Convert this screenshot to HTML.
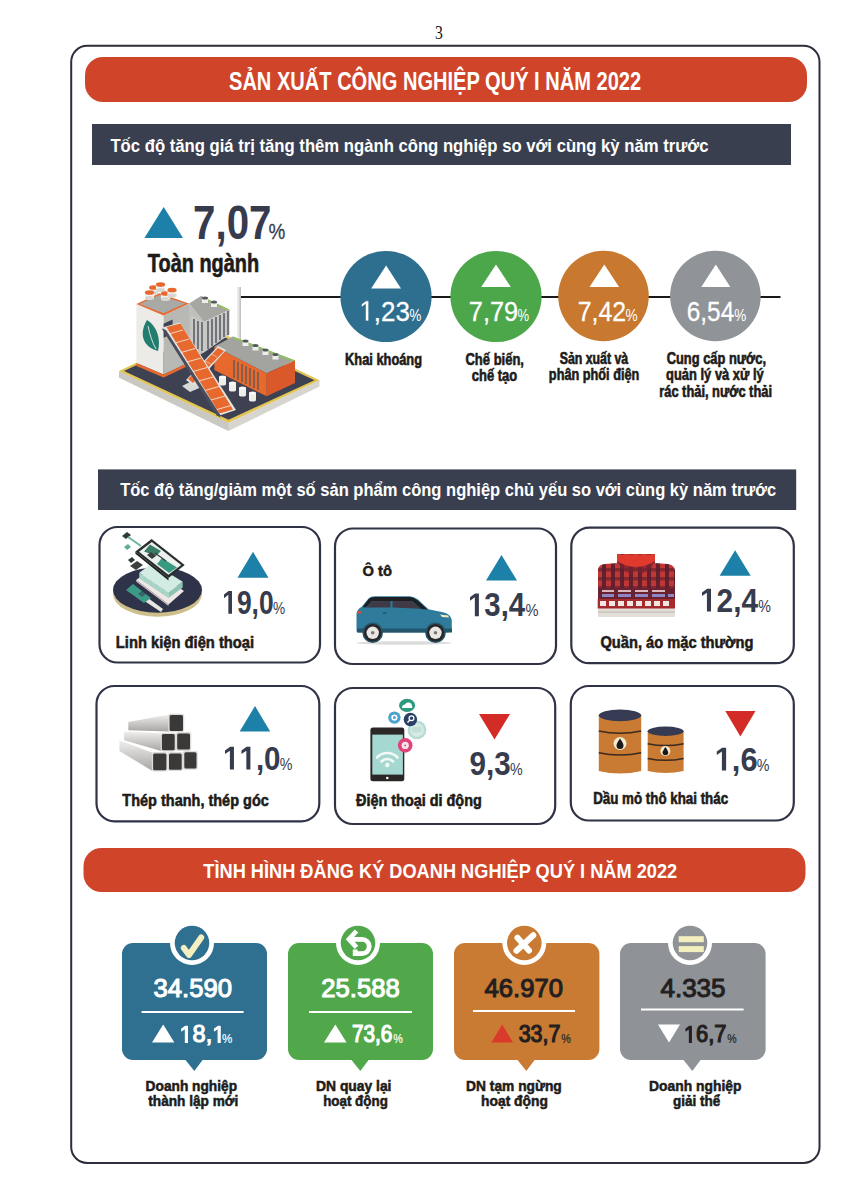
<!DOCTYPE html>
<html><head><meta charset="utf-8"><style>
html,body{margin:0;padding:0;background:#fff;width:849px;height:1200px;overflow:hidden}
svg{display:block}

</style></head><body>
<svg width="849" height="1200" viewBox="0 0 849 1200">
<rect x="0" y="0" width="849" height="1200" fill="#fff"/>
<!-- frame -->
<rect x="71.2" y="45.8" width="748.3" height="1117.2" rx="16" ry="16" fill="none" stroke="#2c2f3b" stroke-width="2"/>
<!-- title bar 1 -->
<rect x="85" y="57" width="722" height="45" rx="18" fill="#d0452a"/>
<!-- subtitle bar 1 -->
<rect x="92" y="124" width="699" height="41" fill="#3a3f50"/>
<!-- connector line -->
<line x1="240" y1="297" x2="780.5" y2="297" stroke="#1a1a1a" stroke-width="2"/>
<!-- circles -->
<circle cx="386" cy="296.5" r="45.6" fill="#2e6f8f"/>
<circle cx="496" cy="296.5" r="45.6" fill="#4ca64a"/>
<circle cx="603.5" cy="296" r="45.3" fill="#c8782f"/>
<circle cx="715.4" cy="296" r="45.3" fill="#909398"/>
<polygon points="371.2,288.5 401,288.5 386.1,265.5" fill="#fff"/>
<polygon points="481.2,287 510.8,287 496,264.5" fill="#fff"/>
<polygon points="589.5,287 619.1,287 604.3,264.5" fill="#fff"/>
<polygon points="701.3,287 730.3,287 715.8,264.5" fill="#fff"/>
<!-- big triangle -->
<polygon points="144.4,238 183,238 163.7,207" fill="#1c80a8"/>
<!-- subtitle bar 2 -->
<rect x="98" y="469.4" width="698.2" height="40.6" fill="#3a3f50"/>
<!-- cards -->
<rect x="99.5" y="527" width="220.5" height="135.5" rx="18" fill="none" stroke="#2f3345" stroke-width="2.2"/>
<rect x="335" y="528.5" width="221" height="135.5" rx="18" fill="none" stroke="#2f3345" stroke-width="2.2"/>
<rect x="571.3" y="527.7" width="222.5" height="135.5" rx="18" fill="none" stroke="#2f3345" stroke-width="2.2"/>
<rect x="96.5" y="686" width="222.8" height="135.3" rx="18" fill="none" stroke="#2f3345" stroke-width="2.2"/>
<rect x="335" y="688" width="220.2" height="136" rx="18" fill="none" stroke="#2f3345" stroke-width="2.2"/>
<rect x="570.8" y="686" width="223" height="134.5" rx="18" fill="none" stroke="#2f3345" stroke-width="2.2"/>
<!-- card triangles -->
<polygon points="237.5,577.7 268.5,577.7 253,551.7" fill="#1c80a8"/>
<polygon points="486,580.5 517,580.5 501.5,555" fill="#1c80a8"/>
<polygon points="719.6,575.7 750.7,575.7 735.1,550.3" fill="#1c80a8"/>
<polygon points="239.7,731.5 270.2,731.5 255,706" fill="#1c80a8"/>
<polygon points="479,714 510,714 494.5,739.4" fill="#d32b25"/>
<polygon points="725.3,711 755.5,711 740.4,736.6" fill="#d32b25"/>
<!-- title bar 2 -->
<rect x="83.5" y="848" width="722" height="44" rx="18" fill="#d0452a"/>
<!-- stat boxes -->
<g id="b1"><rect x="122" y="943" width="145" height="117" rx="11" fill="#2f6f90"/><polygon points="184.7,1059 203.3,1059 194.3,1071" fill="#2f6f90"/>
<circle cx="192" cy="943" r="22" fill="#fff"/><circle cx="192" cy="943" r="17.3" fill="#2f6f90"/>
<rect x="141.6" y="1011" width="102" height="2" fill="#fff"/>
<polygon points="152,1042.6 174.4,1042.6 163.2,1024.6" fill="#fff"/></g>
<g id="b2"><rect x="288" y="943" width="145" height="117" rx="11" fill="#50a84b"/><polygon points="350.7,1059 369.3,1059 360.3,1071" fill="#50a84b"/>
<circle cx="358" cy="943" r="22" fill="#fff"/><circle cx="358" cy="943" r="17.3" fill="#50a84b"/>
<rect x="309" y="1011" width="103" height="2" fill="#fff"/>
<polygon points="324,1042.6 346.6,1042.6 335.3,1024.6" fill="#fff"/></g>
<g id="b3"><rect x="454" y="943" width="145.4" height="117" rx="11" fill="#c97b34"/><polygon points="516.7,1059 535.3,1059 526.3,1071" fill="#c97b34"/>
<circle cx="524.3" cy="943" r="22" fill="#fff"/><circle cx="524.3" cy="943" r="17.3" fill="#c97b34"/>
<rect x="473" y="1010" width="102" height="2" fill="#fff"/>
<polygon points="491.4,1042.6 513,1042.6 502.2,1024.6" fill="#d93a2a"/></g>
<g id="b4"><rect x="620" y="943" width="145.6" height="117" rx="11" fill="#8f9297"/><polygon points="682.7,1059 701.3,1059 692.3,1071" fill="#8f9297"/>
<circle cx="690" cy="943" r="22" fill="#fff"/><circle cx="690" cy="943" r="17.3" fill="#8f9297"/>
<rect x="641" y="1008.5" width="102.6" height="2" fill="#fff"/>
<polygon points="658,1024.6 680,1024.6 669,1042.6" fill="#fff"/></g>
<!-- ===== FACTORY ===== -->
<g id="factory">
 <!-- platform thickness -->
 <polygon points="119,371 228.5,422.7 319.5,380.3 319.5,386.5 228.5,431 119,377.5" fill="#d6d5d0"/>
 <polygon points="119,371 228.5,422.7 228.5,431 119,377.5" fill="#c9c8c3"/>
 <!-- platform top (yellow rim then dark) -->
 <polygon points="119,371 210.2,327.6 319.5,380.3 228.5,422.7" fill="#e2c451"/>
 <polygon points="124,371 210.2,330.5 314.5,380.3 228.5,419.7" fill="#3d4152"/>
 <!-- tall building -->
 <polygon points="136.4,303.9 163.6,315.5 163.6,374.6 136.4,363" fill="#ecebe7"/>
 <polygon points="163.6,315.5 189,303.5 189,362.5 163.6,374.6" fill="#b8b9b5"/>
 <polygon points="136.4,363 163.6,374.6 189,362.5 189,365.5 163.6,377.6 136.4,366" fill="#e8692e"/>
 <polygon points="136.4,303.9 159.5,293.2 189,303.5 163.6,315.5" fill="#e8692e"/>
 <polygon points="139.5,303.9 159.5,295 185.5,303.5 163.6,313.2" fill="#a9aaa6"/>
 <rect x="163.6" y="320" width="9" height="14" fill="#3f4353" transform="skewY(-25) translate(0,80)"/>
 <!-- leaf -->
 <path d="M147,320 C157,326 161,339 158,351 C146,348 137,337 147,320 Z" fill="#227d6e"/>
 <path d="M148,326 C150,335 152,342 156,349" stroke="#ecebe7" stroke-width="0.9" fill="none"/>
 <!-- orange caps -->
 <g>
  <rect x="149.1" y="287.5" width="9.2" height="5.5" fill="#f2f0ec"/><ellipse cx="153.7" cy="293.0" rx="4.6" ry="2" fill="#d9d7d2"/><ellipse cx="153.7" cy="287.5" rx="4.6" ry="2.3" fill="#e8672f"/>
  <rect x="155.9" y="284.5" width="9.2" height="5.5" fill="#f2f0ec"/><ellipse cx="160.5" cy="290.0" rx="4.6" ry="2" fill="#d9d7d2"/><ellipse cx="160.5" cy="284.5" rx="4.6" ry="2.3" fill="#e8672f"/>
  <rect x="144.9" y="292.5" width="9.2" height="5.5" fill="#f2f0ec"/><ellipse cx="149.5" cy="298.0" rx="4.6" ry="2" fill="#d9d7d2"/><ellipse cx="149.5" cy="292.5" rx="4.6" ry="2.3" fill="#e8672f"/>
  <rect x="160.9" y="293.5" width="9.2" height="5.5" fill="#f2f0ec"/><ellipse cx="165.5" cy="299.0" rx="4.6" ry="2" fill="#d9d7d2"/><ellipse cx="165.5" cy="293.5" rx="4.6" ry="2.3" fill="#e8672f"/>
  <rect x="167.4" y="290.0" width="9.2" height="5.5" fill="#f2f0ec"/><ellipse cx="172" cy="295.5" rx="4.6" ry="2" fill="#d9d7d2"/><ellipse cx="172" cy="290.0" rx="4.6" ry="2.3" fill="#e8672f"/>
 </g>
 <!-- middle building -->
 <polygon points="189,303.5 201,296 229.6,309.7 204,322" fill="#a6a7a3"/>
 <polygon points="201,296 229.6,309.7 229.6,311.5 201,297.8" fill="#8fbf5a"/>
 <polygon points="189,303.5 204,322 204,352.6 189,360" fill="#bfc0bc"/>
 <polygon points="191,316 204,322 204,352.6 191,346" fill="#c8c9c5"/>
 <polygon points="204,322 229.6,309.7 229.6,334.4 204,352.6" fill="#c8c9c5"/>
 <g stroke="#5d606b" stroke-width="1.6">
  <line x1="194" y1="319" x2="194" y2="347"/><line x1="198" y1="321" x2="198" y2="349"/><line x1="202" y1="322" x2="202" y2="351"/>
  <line x1="208" y1="321" x2="208" y2="349"/><line x1="212" y1="319" x2="212" y2="346"/><line x1="216" y1="317" x2="216" y2="343"/><line x1="220" y1="315" x2="220" y2="340"/><line x1="224" y1="313" x2="224" y2="337"/><line x1="228" y1="311" x2="228" y2="335"/>
 </g>
 <g>
  <rect x="202" y="298" width="6" height="5" fill="#eeeeea"/><ellipse cx="205" cy="298" rx="3" ry="1.5" fill="#55585f"/>
  <rect x="211" y="302" width="6" height="5" fill="#eeeeea"/><ellipse cx="214" cy="302" rx="3" ry="1.5" fill="#55585f"/>
 </g>
 <!-- chimney -->
 <rect x="237.2" y="287" width="3.6" height="54" fill="#e6e6e2"/><rect x="239.6" y="287" width="1.2" height="54" fill="#b9b9b5"/>
 <!-- right orange building -->
 <polygon points="214.4,346.4 232.8,336.5 295,360.5 266.7,373.2" fill="#a3a4a0"/>
 <polygon points="232.8,336.5 295,360.5 295,362.5 232.8,338.5" fill="#8fbf5a"/>
 <polygon points="214.4,346.4 266.7,373.2 266.7,396.3 214.4,370" fill="#e8692e"/>
 <polygon points="266.7,373.2 295,360.5 295,383 266.7,396.3" fill="#d9592a"/>
 <g stroke="#6b5a55" stroke-width="1.5">
  <line x1="234" y1="360" x2="234" y2="378"/><line x1="238" y1="362" x2="238" y2="380"/><line x1="242" y1="364" x2="242" y2="382"/><line x1="246" y1="366" x2="246" y2="384"/><line x1="250" y1="368" x2="250" y2="386"/><line x1="254" y1="370" x2="254" y2="388"/><line x1="258" y1="372" x2="258" y2="390"/>
 </g>
 <g>
  <rect x="242.5" y="341" width="6" height="5" fill="#eeeeea"/><ellipse cx="245.5" cy="341" rx="3" ry="1.5" fill="#55585f"/>
  <rect x="252.5" y="345.5" width="6" height="5" fill="#eeeeea"/><ellipse cx="255.5" cy="345.5" rx="3" ry="1.5" fill="#55585f"/>
  <rect x="262.5" y="350" width="6" height="5" fill="#eeeeea"/><ellipse cx="265.5" cy="350" rx="3" ry="1.5" fill="#55585f"/>
  <rect x="272.5" y="354.5" width="6" height="5" fill="#eeeeea"/><ellipse cx="275.5" cy="354.5" rx="3" ry="1.5" fill="#55585f"/>
 </g>
 <!-- small cylinders -->
 <g fill="#eeeeea">
  <rect x="219" y="377" width="7" height="7"/><ellipse cx="222.5" cy="384" rx="3.5" ry="1.5"/><ellipse cx="222.5" cy="377" rx="3.5" ry="1.5" fill="#fafaf8"/>
  <rect x="229" y="383" width="7" height="7"/><ellipse cx="232.5" cy="390" rx="3.5" ry="1.5"/><ellipse cx="232.5" cy="383" rx="3.5" ry="1.5" fill="#fafaf8"/>
  <rect x="239" y="388" width="7" height="7"/><ellipse cx="242.5" cy="395" rx="3.5" ry="1.5"/><ellipse cx="242.5" cy="388" rx="3.5" ry="1.5" fill="#fafaf8"/>
  <rect x="249" y="393" width="7" height="7"/><ellipse cx="252.5" cy="400" rx="3.5" ry="1.5"/><ellipse cx="252.5" cy="393" rx="3.5" ry="1.5" fill="#fafaf8"/>
 </g>
 <!-- support -->
 <polygon points="182,386 196,379 204,386 190,392" fill="#d9d9d5"/>
 <!-- conveyor 2 (crossing) -->
 <polygon points="186,380 218,346 226,350 194,386" fill="#e0e0dc"/>
 <polygon points="188,379 218,348 224,351 193,383" fill="#e8692e"/>
 <g stroke="#f3d2c0" stroke-width="0.7"><line x1="193" y1="374" x2="199" y2="377"/><line x1="199" y1="367" x2="205" y2="370"/><line x1="205" y1="361" x2="211" y2="364"/><line x1="211" y1="354" x2="217" y2="357"/></g>
 <!-- conveyor 1 (big diagonal) -->
 <polygon points="162,327.5 180,322.5 236,410 218,416" fill="#e4e4e0"/>
 <polygon points="162,327.5 166,331 221,418 218,416" fill="#3f4353"/>
 <polygon points="162,329 166,330 221,416 217,416" fill="#4a4e5e"/>
 <polygon points="166.5,327 180.5,323.5 233,409.5 219.5,413.5" fill="#e8692e"/>
 <g stroke="#f6e2d6" stroke-width="0.9">
  <line x1="169" y1="334" x2="183" y2="330"/><line x1="175" y1="343" x2="189" y2="339"/><line x1="181" y1="352.5" x2="195" y2="348.5"/><line x1="187" y1="362" x2="201" y2="358"/><line x1="193" y1="371.5" x2="207" y2="367.5"/><line x1="199" y1="381" x2="213" y2="377"/><line x1="205" y1="390.5" x2="219" y2="386.5"/><line x1="211" y1="400" x2="225" y2="396"/><line x1="217" y1="409.5" x2="231" y2="405.5"/>
 </g>
</g>
<!-- ===== PCB / phone parts ===== -->
<g id="pcb">
 <ellipse cx="157.5" cy="594" rx="44.5" ry="22.7" fill="#cdbf8c"/>
 <ellipse cx="157.5" cy="590" rx="44.5" ry="22.7" fill="#2f3349"/>
 <!-- stylus -->
 <polygon points="128,590 133,587 163,609 161,612" fill="#e6e6e2"/>
 <polygon points="126,590 133,584 151,598 144,603" fill="#3c9a86"/>
 <polygon points="138,594 143,590 147,593 142,597" fill="#2f3349" opacity="0.5"/>
 <!-- bottom layer -->
 <polygon points="136.1,579.9 151.6,568.9 184,590.9 168.5,604.5" fill="#efe6e6"/>
 <polygon points="136.1,579.9 168.5,604.5 168.5,606 136.1,581.5" fill="#c9c0c0"/>
 <!-- glass box -->
 <polygon points="139.3,572.8 168.5,592.2 168.5,598 139.3,578.5" fill="#a8d5c5"/>
 <polygon points="168.5,592.2 182.7,581.8 182.7,587.5 168.5,598" fill="#8cc4b2"/>
 <polygon points="139.3,572.8 152.3,563 182.7,581.8 168.5,592.2" fill="#d3ece3"/>
 <g stroke="#9fcfbf" stroke-width="0.6"><line x1="145" y1="576.5" x2="145" y2="582"/><line x1="151" y1="580.5" x2="151" y2="586"/><line x1="157" y1="584.5" x2="157" y2="590"/><line x1="163" y1="588.5" x2="163" y2="594"/></g>
 <!-- top phone -->
 <polygon points="135.4,551.4 151.6,539.1 184.7,565 168.5,578" fill="#2b2e2f"/>
 <polygon points="135.4,551.4 168.5,578 168.5,580.5 135.4,553.8" fill="#1f2223"/>
 <polygon points="139,551.8 151.8,542 181.2,565 168.4,574.8" fill="#eef2ee"/>
 <polygon points="150,544.5 161,551 156,556 144,551.5" fill="#3c7d6a"/>
 <polygon points="162,558 177,567.5 169,573 157,564" fill="#3a9a80"/>
 <polygon points="147,555 151,552 156,556 152,559" fill="#3b3f40"/>
 <line x1="155" y1="553" x2="166" y2="561" stroke="#3b3f40" stroke-width="1.2"/>
 <!-- chips -->
 <polygon points="122,536 127,532 131,535 126,539" fill="#2d3b35"/>
 <line x1="128" y1="537" x2="141" y2="546" stroke="#6fb59e" stroke-width="2"/>
 <polygon points="124,547 128,544 131,547 127,550" fill="#5fae94"/>
 <polygon points="128,560 132,557 135,560 131,563" fill="#2d3b35"/>
 <polygon points="130,566 137,561 143,565 136,570" fill="#3b3f40"/>
</g>
<!-- ===== CAR ===== -->
<g id="car">
 <ellipse cx="404" cy="643" rx="48" ry="1.8" fill="#dcdcdc"/>
 <path d="M356.5,630.5 L356.5,614 Q357,609 362,606.5 L368.5,598.5 Q370.5,596.3 375,596.3 L410,596.3 Q414,596.6 418,599.5 L428.5,609.2 L444,612.5 Q451,614.5 451.8,620 L451.8,629.5 Q451,632.5 447,632.5 L360,632.5 Q356.5,632.5 356.5,630.5 Z" fill="#2f7b9b"/>
 <path d="M362.5,607 L369,598.8 Q371,597 375,597 L410,597 Q413.5,597.3 417.5,600.2 L427.5,609.5 L421,609 L412,601 L372,601 L366,607.5 Z" fill="#1d1f22"/>
 <path d="M366.5,607.5 L372,601.2 L390.5,601 L390.5,607.5 Z" fill="#3f3a46"/>
 <path d="M392.5,607.5 L392.5,601 L411.5,601 L420.5,608.8 Z" fill="#3f3a46"/>
 <rect x="357" y="611" width="4" height="2.6" fill="#c9524a"/>
 <path d="M440,614.5 L448,615.5 L449,617.5 L442,617 Z" fill="#f3ecc0"/>
 <rect x="383" y="612.5" width="3.5" height="1.2" fill="#1f4d60"/>
 <rect x="357" y="628.5" width="95" height="4" fill="#23566b"/>
 <circle cx="372.7" cy="632.8" r="10.3" fill="#23566b"/>
 <circle cx="435.5" cy="632.8" r="10.3" fill="#23566b"/>
 <circle cx="372.7" cy="632.8" r="8.8" fill="#2a2526"/>
 <circle cx="435.5" cy="632.8" r="8.8" fill="#2a2526"/>
 <circle cx="372.7" cy="632.8" r="6.2" fill="#e9e7e4"/>
 <circle cx="435.5" cy="632.8" r="6.2" fill="#e9e7e4"/>
 <circle cx="372.7" cy="632.8" r="1.8" fill="#7a7572"/>
 <circle cx="435.5" cy="632.8" r="1.8" fill="#7a7572"/>
</g>
<!-- ===== SHIRTS ===== -->
<g id="shirts">
 <defs>
  <pattern id="plaid" width="9" height="9" patternUnits="userSpaceOnUse" x="599" y="556">
   <rect width="9" height="9" fill="#bf3836"/>
   <rect x="3" width="4" height="9" fill="#5b1e2c" opacity="0.9"/>
   <rect y="3" width="9" height="3.5" fill="#5b1e2c" opacity="0.6"/>
  </pattern>
 </defs>
 <rect x="598" y="608" width="77" height="9" rx="1.5" fill="#e3ded8"/>
 <rect x="598" y="611.5" width="77" height="1" fill="#b9b3ad"/>
 <rect x="597.7" y="599" width="77.3" height="9.5" fill="#a42a2e"/>
 <g fill="#f1e6e2"><rect x="600" y="601" width="6" height="5"/><rect x="609" y="601" width="6" height="5"/><rect x="618" y="601" width="6" height="5"/><rect x="627" y="601" width="6" height="5"/><rect x="636" y="601" width="6" height="5"/><rect x="645" y="601" width="6" height="5"/><rect x="654" y="601" width="6" height="5"/><rect x="663" y="601" width="6" height="5"/></g>
 <rect x="598" y="588" width="77" height="11" fill="#6a2130"/>
 <g fill="#8d88c4"><rect x="602" y="594" width="12" height="3"/><rect x="618" y="594" width="13" height="3"/><rect x="635" y="594" width="13" height="3"/><rect x="652" y="594" width="13" height="3"/><rect x="668" y="594" width="6" height="3"/></g>
 <g fill="#d9b6c0"><rect x="602" y="590" width="12" height="2"/><rect x="618" y="590" width="13" height="2"/><rect x="635" y="590" width="13" height="2"/><rect x="652" y="590" width="13" height="2"/></g>
 <path d="M598,588 L598,569 Q599,564.5 605,564 L617,563 L617,554 L655,554 L655,563 L668,564 Q674,565 675,570 L675,588 Z" fill="url(#plaid)"/>
 <path d="M617,554.5 L655,554.5 L655,561 Q646,567 636,567 Q626,567 617,561 Z" fill="#e0392e"/>
 <path d="M617,561 Q626,567 636,567 L632,575 L621,568 Z" fill="#7a2230" opacity="0.7"/>
 <path d="M655,561 Q646,567 636,567 L640,575 L651,568 Z" fill="#7a2230" opacity="0.7"/>
</g>
<!-- ===== STEEL BEAMS ===== -->
<g id="steel">
 <defs>
  <linearGradient id="stg" x1="0" y1="0" x2="0" y2="1"><stop offset="0" stop-color="#f0efed"/><stop offset="1" stop-color="#a8a6a4"/></linearGradient>
 </defs>
 <polygon points="119.4,740.3 152.4,752.7 152.4,771 119.4,750.9" fill="url(#stg)"/>
 <polygon points="124.1,731.5 161.2,733.3 161.2,750.9 124.1,740.3" fill="url(#stg)"/>
 <polygon points="128.3,722.1 168.9,714.4 168.9,731.5 128.3,730.3" fill="url(#stg)"/>
 <rect x="168.3" y="713.8" width="15.9" height="18.3" rx="2" fill="#dedcda"/><rect x="169.6" y="715" width="13.4" height="15.9" rx="1.5" fill="#3b3938"/>
 <rect x="160.6" y="732.7" width="15.4" height="18.8" rx="2" fill="#dedcda"/><rect x="161.9" y="734" width="12.8" height="16.2" rx="1.5" fill="#3b3938"/>
 <rect x="175.9" y="732.1" width="15.4" height="18.8" rx="2" fill="#dedcda"/><rect x="177.2" y="733.4" width="12.8" height="16.2" rx="1.5" fill="#3b3938"/>
 <rect x="151.8" y="752.1" width="15.9" height="19.5" rx="2" fill="#dedcda"/><rect x="153.1" y="753.4" width="13.3" height="16.9" rx="1.5" fill="#3b3938"/>
 <rect x="167.7" y="752.1" width="15.3" height="18.9" rx="2" fill="#dedcda"/><rect x="169" y="753.4" width="12.7" height="16.3" rx="1.5" fill="#3b3938"/>
 <rect x="183" y="750.9" width="14.8" height="18.9" rx="2" fill="#dedcda"/><rect x="184.3" y="752.2" width="12.2" height="16.3" rx="1.5" fill="#3b3938"/>
</g>
<!-- ===== MOBILE PHONE ===== -->
<g id="mobile">
 <rect x="370.4" y="727.5" width="33.9" height="53.7" rx="2.5" fill="#2a2726"/>
 <rect x="372.3" y="734.6" width="30.6" height="40" fill="#a5d8d0"/>
 <circle cx="387.3" cy="778" r="1.3" fill="#fff"/>
 <path d="M377,757.5 A14,14 0 0 1 397.6,757.5" stroke="#f4f8f6" stroke-width="2.6" fill="none" stroke-linecap="round"/>
 <path d="M381.5,761.5 A8,8 0 0 1 393.1,761.5" stroke="#f4f8f6" stroke-width="2.6" fill="none" stroke-linecap="round"/>
 <circle cx="387.3" cy="765" r="2.2" fill="#f4f8f6"/>
 <ellipse cx="407.1" cy="705.4" rx="8" ry="6.6" fill="#2d9a7e"/>
 <path d="M402,708 Q402,704.5 405,704.5 Q406,702 409,702.5 Q412,703 412,706 Q413,708 411,708 Z" fill="#fff"/>
 <circle cx="394.4" cy="717.6" r="6.2" fill="#4aa3d0"/>
 <circle cx="394.4" cy="717.6" r="2.3" fill="none" stroke="#fff" stroke-width="1.6"/>
 <circle cx="417" cy="729.9" r="9.4" fill="#b8dcd4"/>
 <circle cx="417" cy="729.9" r="6.8" fill="#d6ebe5"/>
 <rect x="412" y="727" width="9.5" height="5.5" rx="1" fill="#c2e0d8"/>
 <circle cx="410.4" cy="719.5" r="6.7" fill="#2b3f66"/>
 <circle cx="411.5" cy="718.3" r="2.4" fill="none" stroke="#fff" stroke-width="1.3"/>
 <line x1="409.7" y1="720.2" x2="407.5" y2="722.5" stroke="#fff" stroke-width="1.4"/>
 <circle cx="405.2" cy="745.4" r="7.3" fill="#e0437a"/>
 <circle cx="405.2" cy="745.4" r="3.6" fill="#f7e3ea"/><circle cx="405.2" cy="745.4" r="0.9" fill="#e0437a"/>
</g>
<!-- ===== BARRELS ===== -->
<g id="barrels">
 <path d="M598.8,715.3 L641.2,715.3 L641.2,771 Q620,776 598.8,771 Z" fill="#c97a33"/>
 <ellipse cx="620" cy="715.3" rx="21.2" ry="5.9" fill="#363a52"/>
 <path d="M598.8,731 Q620,735.5 641.2,731" stroke="#3a2a20" stroke-width="1.6" fill="none"/>
 <path d="M598.8,752.8 Q620,757.3 641.2,752.8" stroke="#3a2a20" stroke-width="1.6" fill="none"/>
 <circle cx="620" cy="743.5" r="6.5" fill="#f3ead0"/>
 <path d="M620,738.5 Q623.5,743.5 623.5,745.5 A3.5,3.5 0 0 1 616.5,745.5 Q616.5,743.5 620,738.5 Z" fill="#1a1a1a"/>
 <path d="M647.7,731.2 L683.6,731.2 L683.6,771 Q665.6,775 647.7,771 Z" fill="#c97a33"/>
 <ellipse cx="665.6" cy="731.2" rx="18" ry="4.7" fill="#363a52"/>
 <path d="M647.7,743.7 Q665.6,747.5 683.6,743.7" stroke="#3a2a20" stroke-width="1.5" fill="none"/>
 <path d="M647.7,758.4 Q665.6,762.2 683.6,758.4" stroke="#3a2a20" stroke-width="1.5" fill="none"/>
 <circle cx="665.4" cy="751" r="5" fill="#f3ead0"/>
 <path d="M665.4,747 Q668.2,751 668.2,752.5 A2.8,2.8 0 0 1 662.6,752.5 Q662.6,751 665.4,747 Z" fill="#1a1a1a"/>
</g>
<!-- ===== STAT ICONS ===== -->
<path d="M183.8,948 L189,955 L201.2,937.5" stroke="#f3efbe" stroke-width="6" fill="none" stroke-linecap="round" stroke-linejoin="round"/>
<g stroke="#fff" stroke-width="4.8" fill="none" stroke-linejoin="miter">
 <path d="M356.5,931 L349,939.2 L356.5,947.3"/>
 <path d="M350.5,939.3 L362,939.3 A7.2,7.2 0 0 1 362,953.7 L355.2,953.7 L355.2,949.5"/>
</g>
<g stroke="#fff" stroke-width="6" fill="none" stroke-linecap="round">
 <line x1="517.5" y1="937.8" x2="529" y2="950.5"/>
 <line x1="516.5" y1="950.8" x2="533.3" y2="935.2"/>
</g>
<rect x="678.7" y="936.2" width="25.1" height="6" fill="#f3efbe"/>
<rect x="678.7" y="946.1" width="25.1" height="6" fill="#f3efbe"/>

<text transform="translate(435.09,38.80) scale(0.8348,1)" font-family="Liberation Serif" font-weight="normal" font-size="18.82" fill="#111">3</text>
<text transform="translate(229.00,90.20) scale(0.7637,1)" font-family="Liberation Sans" font-weight="bold" font-size="26.29" fill="#ffffff">SẢN XUẤT CÔNG NGHIỆP QUÝ I NĂM 2022</text>
<text transform="translate(110.43,151.80) scale(0.8652,1)" font-family="Liberation Sans" font-weight="bold" font-size="19.29" fill="#ffffff">Tốc độ tăng giá trị tăng thêm ngành công nghiệp so với cùng kỳ năm trước</text>
<text transform="translate(193.09,238.90) scale(0.8515,1)" font-family="Liberation Sans" font-weight="bold" font-size="47.29" fill="#363b4e">7,07</text>
<text transform="translate(268.54,238.60) scale(0.8270,1)" font-family="Liberation Sans" font-weight="normal" font-size="22.86" fill="#363b4e" stroke="#363b4e" stroke-width="0.30">%</text>
<text transform="translate(147.80,272.00) scale(0.7748,1)" font-family="Liberation Sans" font-weight="bold" font-size="25.71" fill="#201b19" stroke="#201b19" stroke-width="0.65">Toàn ngành</text>
<text transform="translate(359.40,320.50) scale(0.9232,1)" font-family="Liberation Sans" font-weight="normal" font-size="28.14" fill="#ffffff" stroke="#ffffff" stroke-width="0.27"> ,23</text>
<polygon transform="translate(359.40,320.50) scale(0.9232,1) translate(0.000,0) scale(0.01374)" points="515,0 515,-1237 197,-1010 197,-1180 530,-1409 696,-1409 696,0" fill="#ffffff" stroke="#ffffff" stroke-width="19.7" stroke-linejoin="round"/>
<text transform="translate(409.43,320.50) scale(0.8308,1)" font-family="Liberation Sans" font-weight="normal" font-size="16.00" fill="#ffffff">%</text>
<text transform="translate(468.83,320.50) scale(0.9007,1)" font-family="Liberation Sans" font-weight="normal" font-size="28.14" fill="#ffffff" stroke="#ffffff" stroke-width="0.28">7,79</text>
<text transform="translate(517.54,320.50) scale(0.8155,1)" font-family="Liberation Sans" font-weight="normal" font-size="16.00" fill="#ffffff">%</text>
<text transform="translate(577.75,320.50) scale(0.8854,1)" font-family="Liberation Sans" font-weight="normal" font-size="28.14" fill="#ffffff" stroke="#ffffff" stroke-width="0.28">7,42</text>
<text transform="translate(625.62,320.50) scale(0.8537,1)" font-family="Liberation Sans" font-weight="normal" font-size="16.00" fill="#ffffff">%</text>
<text transform="translate(686.78,320.50) scale(0.8664,1)" font-family="Liberation Sans" font-weight="normal" font-size="28.14" fill="#ffffff" stroke="#ffffff" stroke-width="0.29">6,54</text>
<text transform="translate(734.13,320.50) scale(0.8460,1)" font-family="Liberation Sans" font-weight="normal" font-size="16.00" fill="#ffffff">%</text>
<text transform="translate(345.07,364.50) scale(0.8175,1)" font-family="Liberation Sans" font-weight="bold" font-size="15.71" fill="#201b19" stroke="#201b19" stroke-width="0.61">Khai khoáng</text>
<text transform="translate(465.48,364.50) scale(0.8277,1)" font-family="Liberation Sans" font-weight="bold" font-size="15.71" fill="#201b19" stroke="#201b19" stroke-width="0.60">Chế biến,</text>
<text transform="translate(471.85,380.60) scale(0.8256,1)" font-family="Liberation Sans" font-weight="bold" font-size="15.71" fill="#201b19" stroke="#201b19" stroke-width="0.61">chế tạo</text>
<text transform="translate(559.69,364.10) scale(0.7850,1)" font-family="Liberation Sans" font-weight="bold" font-size="15.71" fill="#201b19" stroke="#201b19" stroke-width="0.64">Sản xuất và</text>
<text transform="translate(548.87,380.30) scale(0.8100,1)" font-family="Liberation Sans" font-weight="bold" font-size="15.71" fill="#201b19" stroke="#201b19" stroke-width="0.62">phân phối điện</text>
<text transform="translate(666.68,364.10) scale(0.8203,1)" font-family="Liberation Sans" font-weight="bold" font-size="15.71" fill="#201b19" stroke="#201b19" stroke-width="0.61">Cung cấp nước,</text>
<text transform="translate(666.08,380.30) scale(0.8226,1)" font-family="Liberation Sans" font-weight="bold" font-size="15.71" fill="#201b19" stroke="#201b19" stroke-width="0.61">quản lý và xử lý</text>
<text transform="translate(659.26,396.50) scale(0.8185,1)" font-family="Liberation Sans" font-weight="bold" font-size="15.71" fill="#201b19" stroke="#201b19" stroke-width="0.61">rác thải, nước thải</text>
<text transform="translate(120.13,495.80) scale(0.8637,1)" font-family="Liberation Sans" font-weight="bold" font-size="19.14" fill="#ffffff">Tốc độ tăng/giảm một số sản phẩm công nghiệp chủ yếu so với cùng kỳ năm trước</text>
<text transform="translate(222.19,613.70) scale(0.7978,1)" font-family="Liberation Sans" font-weight="bold" font-size="33.14" fill="#363b4e"> 9,0</text>
<polygon transform="translate(222.19,613.70) scale(0.7978,1) translate(0.000,0) scale(0.01618)" points="478,0 478,-1170 140,-959 140,-1180 493,-1409 759,-1409 759,0" fill="#363b4e"/>
<text transform="translate(273.02,613.70) scale(0.8103,1)" font-family="Liberation Sans" font-weight="normal" font-size="16.86" fill="#363b4e">%</text>
<text transform="translate(467.99,616.30) scale(0.8874,1)" font-family="Liberation Sans" font-weight="bold" font-size="33.14" fill="#363b4e"> 3,4</text>
<polygon transform="translate(467.99,616.30) scale(0.8874,1) translate(0.000,0) scale(0.01618)" points="478,0 478,-1170 140,-959 140,-1180 493,-1409 759,-1409 759,0" fill="#363b4e"/>
<text transform="translate(525.49,616.30) scale(0.8681,1)" font-family="Liberation Sans" font-weight="normal" font-size="16.86" fill="#363b4e">%</text>
<text transform="translate(699.96,611.60) scale(0.9003,1)" font-family="Liberation Sans" font-weight="bold" font-size="33.14" fill="#363b4e"> 2,4</text>
<polygon transform="translate(699.96,611.60) scale(0.9003,1) translate(0.000,0) scale(0.01618)" points="478,0 478,-1170 140,-959 140,-1180 493,-1409 759,-1409 759,0" fill="#363b4e"/>
<text transform="translate(758.30,611.60) scale(0.8464,1)" font-family="Liberation Sans" font-weight="normal" font-size="16.86" fill="#363b4e">%</text>
<text transform="translate(222.98,769.60) scale(0.8928,1)" font-family="Liberation Sans" font-weight="bold" font-size="33.14" fill="#363b4e">  ,0</text>
<polygon transform="translate(222.98,769.60) scale(0.8928,1) translate(0.000,0) scale(0.01618)" points="478,0 478,-1170 140,-959 140,-1180 493,-1409 759,-1409 759,0" fill="#363b4e"/>
<polygon transform="translate(222.98,769.60) scale(0.8928,1) translate(18.432,0) scale(0.01618)" points="478,0 478,-1170 140,-959 140,-1180 493,-1409 759,-1409 759,0" fill="#363b4e"/>
<text transform="translate(279.80,769.60) scale(0.8464,1)" font-family="Liberation Sans" font-weight="normal" font-size="16.86" fill="#363b4e">%</text>
<text transform="translate(469.61,775.30) scale(0.8933,1)" font-family="Liberation Sans" font-weight="bold" font-size="33.14" fill="#363b4e">9,3</text>
<text transform="translate(510.00,775.30) scale(0.8464,1)" font-family="Liberation Sans" font-weight="normal" font-size="16.86" fill="#363b4e">%</text>
<text transform="translate(714.69,770.50) scale(0.9317,1)" font-family="Liberation Sans" font-weight="bold" font-size="33.14" fill="#363b4e"> ,6</text>
<polygon transform="translate(714.69,770.50) scale(0.9317,1) translate(0.000,0) scale(0.01618)" points="478,0 478,-1170 140,-959 140,-1180 493,-1409 759,-1409 759,0" fill="#363b4e"/>
<text transform="translate(756.80,770.50) scale(0.8464,1)" font-family="Liberation Sans" font-weight="normal" font-size="16.86" fill="#363b4e">%</text>
<text transform="translate(115.84,647.80) scale(0.9135,1)" font-family="Liberation Sans" font-weight="bold" font-size="16.14" fill="#201b19" stroke="#201b19" stroke-width="0.55">Linh kiện điện thoại</text>
<text transform="translate(362.61,575.60) scale(0.9998,1)" font-family="Liberation Sans" font-weight="bold" font-size="14.71" fill="#201b19" stroke="#201b19" stroke-width="0.50">Ô tô</text>
<text transform="translate(600.41,647.80) scale(0.9097,1)" font-family="Liberation Sans" font-weight="bold" font-size="16.14" fill="#201b19" stroke="#201b19" stroke-width="0.55">Quần, áo mặc thường</text>
<text transform="translate(122.36,806.00) scale(0.8978,1)" font-family="Liberation Sans" font-weight="bold" font-size="16.14" fill="#201b19" stroke="#201b19" stroke-width="0.56">Thép thanh, thép góc</text>
<text transform="translate(356.00,805.50) scale(0.8946,1)" font-family="Liberation Sans" font-weight="bold" font-size="16.14" fill="#201b19" stroke="#201b19" stroke-width="0.56">Điện thoại di động</text>
<text transform="translate(593.13,803.50) scale(0.8283,1)" font-family="Liberation Sans" font-weight="bold" font-size="16.14" fill="#201b19" stroke="#201b19" stroke-width="0.60">Dầu mỏ thô khai thác</text>
<text transform="translate(203.32,878.00) scale(0.8973,1)" font-family="Liberation Sans" font-weight="bold" font-size="20.29" fill="#ffffff">TÌNH HÌNH ĐĂNG KÝ DOANH NGHIỆP QUÝ I NĂM 2022</text>
<text transform="translate(153.50,997.40) scale(0.9755,1)" font-family="Liberation Sans" font-weight="normal" font-size="26.29" fill="#ffffff" stroke="#ffffff" stroke-width="1.13">34.590</text>
<text transform="translate(179.43,1042.40) scale(1.0058,1)" font-family="Liberation Sans" font-weight="normal" font-size="23.43" fill="#ffffff" stroke="#ffffff" stroke-width="1.09"> 8, </text>
<polygon transform="translate(179.43,1042.40) scale(1.0058,1) translate(0.000,0) scale(0.01144)" points="515,0 515,-1237 197,-1010 197,-1180 530,-1409 696,-1409 696,0" fill="#ffffff" stroke="#ffffff" stroke-width="95.6" stroke-linejoin="round"/>
<polygon transform="translate(179.43,1042.40) scale(1.0058,1) translate(32.569,0) scale(0.01144)" points="515,0 515,-1237 197,-1010 197,-1180 530,-1409 696,-1409 696,0" fill="#ffffff" stroke="#ffffff" stroke-width="95.6" stroke-linejoin="round"/>
<text transform="translate(221.99,1042.60) scale(0.8537,1)" font-family="Liberation Sans" font-weight="normal" font-size="13.57" fill="#ffffff" stroke="#ffffff" stroke-width="0.18">%</text>
<text transform="translate(145.61,1091.40) scale(0.9799,1)" font-family="Liberation Sans" font-weight="bold" font-size="14.00" fill="#201b19" stroke="#201b19" stroke-width="0.51">Doanh nghiệp</text>
<text transform="translate(148.26,1106.30) scale(0.9747,1)" font-family="Liberation Sans" font-weight="bold" font-size="14.00" fill="#201b19" stroke="#201b19" stroke-width="0.51">thành lập mới</text>
<text transform="translate(321.32,997.40) scale(0.9743,1)" font-family="Liberation Sans" font-weight="normal" font-size="26.29" fill="#ffffff" stroke="#ffffff" stroke-width="1.13">25.588</text>
<text transform="translate(351.96,1042.40) scale(0.8858,1)" font-family="Liberation Sans" font-weight="normal" font-size="23.43" fill="#ffffff" stroke="#ffffff" stroke-width="1.24">73,6</text>
<text transform="translate(393.32,1042.60) scale(0.7997,1)" font-family="Liberation Sans" font-weight="normal" font-size="13.57" fill="#ffffff" stroke="#ffffff" stroke-width="0.19">%</text>
<text transform="translate(316.10,1091.40) scale(0.9895,1)" font-family="Liberation Sans" font-weight="bold" font-size="14.00" fill="#201b19" stroke="#201b19" stroke-width="0.51">DN quay lại</text>
<text transform="translate(323.13,1106.30) scale(0.9572,1)" font-family="Liberation Sans" font-weight="bold" font-size="14.00" fill="#201b19" stroke="#201b19" stroke-width="0.52">hoạt động</text>
<text transform="translate(484.49,997.40) scale(0.9757,1)" font-family="Liberation Sans" font-weight="normal" font-size="26.29" fill="#231f20" stroke="#231f20" stroke-width="1.13">46.970</text>
<text transform="translate(518.65,1042.40) scale(0.9177,1)" font-family="Liberation Sans" font-weight="normal" font-size="23.43" fill="#231f20" stroke="#231f20" stroke-width="1.20">33,7</text>
<text transform="translate(561.32,1042.60) scale(0.7997,1)" font-family="Liberation Sans" font-weight="normal" font-size="13.57" fill="#231f20" stroke="#231f20" stroke-width="0.19">%</text>
<text transform="translate(466.10,1091.40) scale(0.9852,1)" font-family="Liberation Sans" font-weight="bold" font-size="14.00" fill="#201b19" stroke="#201b19" stroke-width="0.51">DN tạm ngừng</text>
<text transform="translate(481.10,1106.30) scale(0.9876,1)" font-family="Liberation Sans" font-weight="bold" font-size="14.00" fill="#201b19" stroke="#201b19" stroke-width="0.51">hoạt động</text>
<text transform="translate(660.48,997.40) scale(0.9880,1)" font-family="Liberation Sans" font-weight="normal" font-size="26.29" fill="#231f20" stroke="#231f20" stroke-width="1.11">4.335</text>
<text transform="translate(683.89,1042.40) scale(0.9346,1)" font-family="Liberation Sans" font-weight="normal" font-size="23.43" fill="#231f20" stroke="#231f20" stroke-width="1.18"> 6,7</text>
<polygon transform="translate(683.89,1042.40) scale(0.9346,1) translate(0.000,0) scale(0.01144)" points="515,0 515,-1237 197,-1010 197,-1180 530,-1409 696,-1409 696,0" fill="#231f20" stroke="#231f20" stroke-width="102.9" stroke-linejoin="round"/>
<text transform="translate(727.33,1042.60) scale(0.7818,1)" font-family="Liberation Sans" font-weight="normal" font-size="13.57" fill="#231f20" stroke="#231f20" stroke-width="0.19">%</text>
<text transform="translate(649.10,1091.40) scale(0.9908,1)" font-family="Liberation Sans" font-weight="bold" font-size="14.00" fill="#201b19" stroke="#201b19" stroke-width="0.50">Doanh nghiệp</text>
<text transform="translate(673.06,1106.30) scale(0.9636,1)" font-family="Liberation Sans" font-weight="bold" font-size="14.00" fill="#201b19" stroke="#201b19" stroke-width="0.52">giải thể</text>
</svg>
</body></html>
